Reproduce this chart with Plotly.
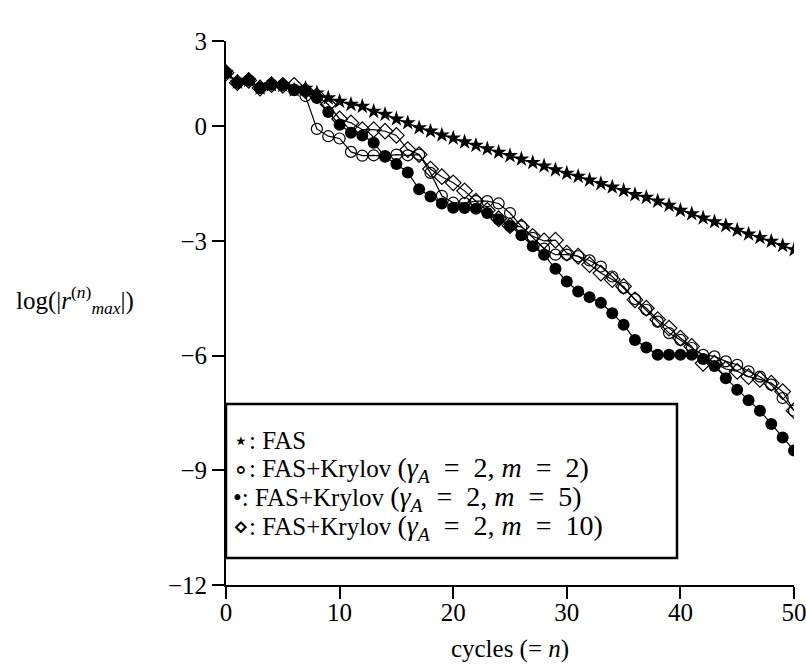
import plotly.graph_objects as go

# cycle index
cycles = list(range(51))

# log of max residual per cycle
fas = [1.41, 1.15, 1.20, 1.00, 1.08, 1.07, 0.95, 0.99, 0.87, 0.74,
       0.65, 0.57, 0.52, 0.39, 0.31, 0.19, 0.09, -0.04, -0.13, -0.23,
       -0.31, -0.41, -0.50, -0.59, -0.68, -0.77, -0.86, -0.95, -1.04, -1.14,
       -1.23, -1.31, -1.41, -1.50, -1.59, -1.68, -1.79, -1.86, -1.96, -2.07,
       -2.20, -2.29, -2.40, -2.50, -2.60, -2.72, -2.82, -2.91, -3.01, -3.12,
       -3.23]

krylov_m2 = [1.40, 1.14, 1.20, 1.00, 1.09, 1.07, 0.96, 0.79, -0.07, -0.26,
             -0.32, -0.67, -0.77, -0.76, -0.78, -0.74, -0.76, -0.74, -1.22, -1.82,
             -2.00, -2.01, -1.96, -1.96, -2.02, -2.27, -2.62, -2.92, -3.20, -3.36,
             -3.36, -3.40, -3.51, -3.67, -3.93, -4.23, -4.52, -4.80, -5.11, -5.41,
             -5.59, -5.80, -5.98, -6.02, -6.15, -6.24, -6.41, -6.55, -6.76, -7.11,
             -7.44]

krylov_m5 = [1.40, 1.14, 1.20, 1.00, 1.09, 1.07, 0.94, 0.92, 0.74, 0.37,
             0.04, -0.17, -0.24, -0.43, -0.80, -0.99, -1.21, -1.65, -1.84, -2.02,
             -2.13, -2.14, -2.16, -2.27, -2.44, -2.61, -2.85, -3.14, -3.36, -3.73,
             -4.06, -4.32, -4.47, -4.62, -4.89, -5.19, -5.59, -5.79, -5.98, -5.98,
             -5.98, -5.98, -6.09, -6.27, -6.59, -6.89, -7.17, -7.44, -7.79, -8.14,
             -8.48]

krylov_m10 = [1.40, 1.14, 1.20, 1.00, 1.09, 1.07, 1.07, 0.93, 0.80, 0.57,
              0.19, 0.09, -0.09, -0.09, -0.13, -0.24, -0.61, -0.74, -1.12, -1.32,
              -1.48, -1.69, -1.96, -2.20, -2.42, -2.60, -2.63, -2.88, -3.00, -2.98,
              -3.32, -3.40, -3.62, -3.84, -4.01, -4.19, -4.54, -4.76, -5.06, -5.28,
              -5.54, -5.76, -6.20, -6.20, -6.35, -6.41, -6.55, -6.62, -6.72, -6.94,
              -7.44]

x_ticks = [0, 10, 20, 30, 40, 50]
y_ticks = [-12, -9, -6, -3, 0]
y_top = 2.23          # upper end of the y axis, labelled "3"
y_top_label = "3"

legend_symbols = ["\u22c6", "\u2218", "\u2022", "\u22c4"]
m_values = [None, 2, 5, 10]


def math_part(m):
    # gamma_A = 2, m = <m>, set a little larger with wide relation spacing
    sp = "\u2002"
    return ('<span style="font-size:28px">(<i>\u03b3</i><sub><i>A</i></sub>'
            f'{sp}={sp}2,\u2005<i>m</i>{sp}={sp}{m})</span>')


legend_lines = [
    f"{legend_symbols[0]}: FAS" if m is None
    else f"{legend_symbols[i]}: FAS+Krylov {math_part(m)}"
    for i, m in enumerate(m_values)
]

FONT = "Times New Roman, Liberation Serif, serif"
FS = 25
line_style = dict(color="black", width=1.2)

fig = go.Figure()
fig.add_trace(go.Scatter(x=cycles, y=krylov_m2, mode="lines+markers", line=line_style,
                         marker=dict(symbol="circle-open", size=11, color="black",
                                     line=dict(width=1.2, color="black"))))
fig.add_trace(go.Scatter(x=cycles, y=krylov_m10, mode="lines+markers", line=line_style,
                         marker=dict(symbol="diamond-open", size=12, color="black",
                                     line=dict(width=1.2, color="black"))))
fig.add_trace(go.Scatter(x=cycles, y=krylov_m5, mode="lines+markers", line=line_style,
                         marker=dict(symbol="circle", size=12, color="black")))
fig.add_trace(go.Scatter(x=cycles, y=fas, mode="lines+markers", line=dict(color="black", width=1.5),
                         marker=dict(symbol="star", size=12, color="black",
                                     line=dict(width=0))))

fig.update_layout(
    width=806, height=672,
    margin=dict(l=226, r=12, t=41, b=87),
    paper_bgcolor="white", plot_bgcolor="white",
    showlegend=False,
    font=dict(family=FONT, size=FS, color="black"),
)
fig.update_xaxes(range=[0, 50], tickvals=x_ticks, ticks="outside", ticklen=12, tickwidth=1.5,
                 tickcolor="black", showline=True, linecolor="black", linewidth=2,
                 showgrid=False, zeroline=False, tickfont=dict(family=FONT, size=FS),
                 automargin=False, ticklabeloverflow="allow", ticklabelstandoff=-8,
                 title=dict(text="cycles (=\u2005<i>n</i>)", font=dict(family=FONT, size=FS),
                            standoff=14))
fig.update_yaxes(range=[-12, y_top], tickvals=y_ticks + [y_top],
                 ticktext=["\u221212", "\u22129", "\u22126", "\u22123", "0", y_top_label],
                 ticks="outside", ticklen=12, tickwidth=1.5, tickcolor="black",
                 showline=True, linecolor="black", linewidth=2, showgrid=False, zeroline=False,
                 automargin=False, ticklabeloverflow="allow",
                 tickfont=dict(family=FONT, size=FS))

fig.add_annotation(xref="paper", yref="paper", x=-0.265, y=(585 - 300) / 544,
                   text="log(|<i>r</i><sup>(<i>n</i>)</sup><sub><i>max</i></sub>|)",
                   showarrow=False, font=dict(family=FONT, size=FS),
                   xanchor="center", yanchor="middle")

# legend box with text entries
fig.add_shape(type="rect", xref="paper", yref="paper",
              x0=0, x1=(677 - 226) / 568, y0=(585 - 558) / 544, y1=(585 - 404) / 544,
              line=dict(color="black", width=2.5), fillcolor="white", layer="above")
for i, txt in enumerate(legend_lines):
    fig.add_annotation(xref="paper", yref="paper", x=(231 - 226) / 568,
                       y=(585 - (440 + 29 * i)) / 544, text=txt, showarrow=False,
                       xanchor="left", yanchor="middle", font=dict(family=FONT, size=FS))

fig.write_html("out.html")
